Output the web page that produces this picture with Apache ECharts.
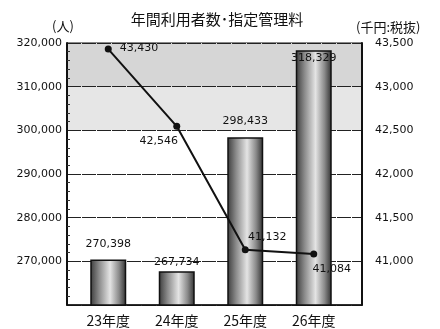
<!DOCTYPE html>
<html>
<head>
<meta charset="utf-8">
<script src="https://cdn.jsdelivr.net/npm/echarts@6/dist/echarts.min.js"></script>
<style>
  html, body { margin: 0; padding: 0; background: #fff; }
  #chart { width: 440px; height: 329px; }
</style>
</head>
<body>
<div id="chart"></div>
<script>
// 年間利用者数（人）と指定管理料（千円・税抜）
const years = ['23年度', '24年度', '25年度', '26年度'];
const visitors = [270398, 267734, 298433, 318329];
const managementFee = [43430, 42546, 41132, 41084];

const visitorAxis = { min: 260000, max: 320000, interval: 10000 };
const feeAxis = { min: 40500, max: 43500, interval: 500 };

const fmt = v => v.toLocaleString('en-US');
const numFont = 'DejaVu Sans';
const cjkFont = '"Noto Sans CJK JP", "Noto Sans", sans-serif';

// label placement per bar / per point
const barLabelPos = [
  { position: 'top', distance: 10 },
  { position: 'top', distance: 4 },
  { position: 'top', distance: 11 },
  { position: 'insideTop', distance: 2 }
];
const lineLabelPos = [
  { position: 'right', distance: 8, offset: [0, -1] },
  { position: 'bottom', distance: 6, offset: [-18, 0] },
  { position: 'top', distance: 4, offset: [22, 0] },
  { position: 'bottom', distance: 6, offset: [18, 0] }
];

const barFill = {
  type: 'linear', x: 0, y: 0, x2: 1, y2: 0,
  colorStops: [
    { offset: 0, color: '#3a3a3a' },
    { offset: 0.25, color: '#8c8c8c' },
    { offset: 0.55, color: '#e4e4e4' },
    { offset: 0.8, color: '#8a8a8a' },
    { offset: 1, color: '#2e2e2e' }
  ]
};

const chart = echarts.init(document.getElementById('chart'), null, { renderer: 'canvas' });

chart.setOption({
  animation: false,
  backgroundColor: '#fff',
  title: {
    text: '年間利用者数･指定管理料',
    left: 212, top: 7, textAlign: 'center',
    textStyle: { fontFamily: cjkFont, fontSize: 15, fontWeight: 'normal', color: '#111' }
  },
  graphic: [
    { type: 'text', left: 52, top: 20, style: { text: '(人)', font: '13px ' + cjkFont, fill: '#111' } },
    { type: 'text', left: 356, top: 21, style: { text: '(千円:税抜)', font: '13px ' + cjkFont, fill: '#111' } }
  ],
  grid: [
    { left: 67, right: 78, top: 43, bottom: 24, show: true, borderColor: '#111', borderWidth: 1, backgroundColor: 'transparent' },
    { left: 74, right: 92, top: 43, bottom: 24 }
  ],
  xAxis: [
    {
      type: 'category', gridIndex: 0, data: years,
      axisLine: { show: true, lineStyle: { color: '#111', width: 1.5 } },
      axisTick: { show: false }, axisLabel: { show: false }
    },
    {
      type: 'category', gridIndex: 1, data: years,
      axisLine: { show: false }, axisTick: { show: false },
      axisLabel: { margin: 9, fontFamily: cjkFont, fontSize: 14, color: '#111' }
    }
  ],
  yAxis: [
    {
      type: 'value', gridIndex: 0, position: 'left',
      min: visitorAxis.min, max: visitorAxis.max, interval: visitorAxis.interval,
      axisLine: { show: true, lineStyle: { color: '#111', width: 2 } },
      axisTick: { show: true, inside: true, length: 0 },
      minorTick: { show: true, splitNumber: 5, length: 3, lineStyle: { color: '#333' } },
      axisLabel: {
        margin: 5, fontFamily: numFont, fontSize: 11, color: '#111',
        formatter: v => (v === visitorAxis.min ? '' : fmt(v))
      },
      splitLine: { show: true, lineStyle: { color: '#222', width: 1, type: [14, 1] } },
      splitArea: {
        show: true,
        areaStyle: { color: ['rgba(0,0,0,0)', 'rgba(0,0,0,0)', 'rgba(0,0,0,0)', 'rgba(0,0,0,0)', '#e6e6e6', '#d6d6d6'] }
      }
    },
    {
      type: 'value', gridIndex: 0, position: 'right',
      min: feeAxis.min, max: feeAxis.max, interval: feeAxis.interval,
      axisLine: { show: true, lineStyle: { color: '#111', width: 2 } },
      axisTick: { show: false },
      axisLabel: {
        margin: 13, fontFamily: numFont, fontSize: 11, color: '#111',
        formatter: v => (v === feeAxis.min ? '' : fmt(v))
      },
      splitLine: { show: false }
    },
    {
      type: 'value', gridIndex: 1, show: false,
      min: visitorAxis.min, max: visitorAxis.max, interval: visitorAxis.interval,
      splitLine: { show: false }
    },
    {
      type: 'value', gridIndex: 1, show: false,
      min: feeAxis.min, max: feeAxis.max, interval: feeAxis.interval,
      splitLine: { show: false }
    }
  ],
  series: [
    {
      name: '年間利用者数', type: 'bar', xAxisIndex: 1, yAxisIndex: 2,
      barWidth: 36,
      itemStyle: { color: barFill, borderColor: '#111', borderWidth: 1.5 },
      label: { show: true, fontFamily: numFont, fontSize: 11, color: '#111', formatter: p => fmt(p.value) },
      data: visitors.map((v, i) => ({ value: v, label: barLabelPos[i] }))
    },
    {
      name: '指定管理料', type: 'line', xAxisIndex: 1, yAxisIndex: 3,
      symbol: 'circle', symbolSize: 7,
      lineStyle: { color: '#111', width: 2 },
      itemStyle: { color: '#111' },
      label: { show: true, fontFamily: numFont, fontSize: 11, color: '#111', formatter: p => fmt(p.value) },
      data: managementFee.map((v, i) => ({ value: v, label: lineLabelPos[i] })),
      z: 5
    }
  ]
});
</script>
</body>
</html>
